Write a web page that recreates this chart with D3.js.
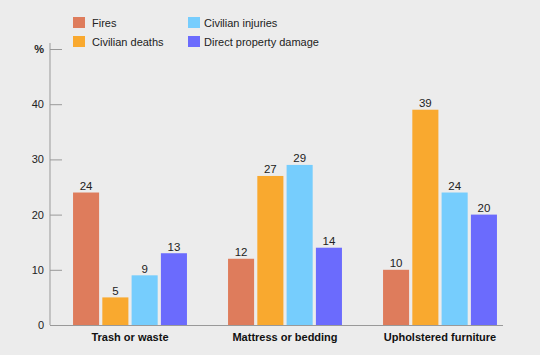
<!DOCTYPE html>
<html><head><meta charset="utf-8">
<script src="https://cdn.jsdelivr.net/npm/d3@7"></script>
<style>
html,body{margin:0;padding:0;background:#ececec;}
svg{display:block;font-family:"Liberation Sans",Arial,sans-serif;}
</style></head>
<body>
<svg id="chart" width="540" height="355"></svg>
<script>
const categories = ["Trash or waste", "Mattress or bedding", "Upholstered furniture"];
const seriesNames = ["Fires", "Civilian deaths", "Civilian injuries", "Direct property damage"];
const fires = [24, 12, 10];
const civilianDeaths = [5, 27, 39];
const civilianInjuries = [9, 29, 24];
const propertyDamage = [13, 14, 20];
const yTicks = [0, 10, 20, 30, 40];
const colors = ["#de7c5c", "#f9a92f", "#76cdfd", "#6b6bfd"];

const seriesValues = [fires, civilianDeaths, civilianInjuries, propertyDamage];
const svg = d3.select("#chart");

const y = d3.scaleLinear().domain([0, 50]).range([325, 49]);
const x0 = d3.scaleBand().domain(categories).range([52.5, 517.5]).paddingInner(0.265).paddingOuter(0.1325);
const x1 = d3.scaleBand().domain(seriesNames).range([0, x0.bandwidth()]).paddingInner(0.11);

// y axis
const yAxis = d3.axisRight(y).tickValues(yTicks.concat([50])).tickSize(12).tickFormat("");
const ga = svg.append("g").attr("transform", "translate(50,0)").call(yAxis);
ga.select(".domain").attr("d", `M0,43V${y(0)}`).attr("stroke", "#999");
ga.selectAll(".tick line").attr("stroke", "#999");

svg.append("g").selectAll("text").data(yTicks).join("text")
  .attr("x", 44).attr("y", d => y(d) + 4)
  .attr("text-anchor", "end").attr("font-size", 11).attr("fill", "#222")
  .text(d => d);
svg.append("text").attr("x", 44).attr("y", y(50) + 4)
  .attr("text-anchor", "end").attr("font-size", 11).attr("font-weight", "bold").attr("fill", "#222").text("%");

// bars
const groups = svg.append("g").selectAll("g").data(categories).join("g")
  .attr("transform", c => `translate(${x0(c)},0)`);
groups.each(function(c, ci) {
  const g = d3.select(this);
  seriesNames.forEach((s, si) => {
    const v = seriesValues[si][ci];
    g.append("rect").attr("x", x1(s)).attr("width", x1.bandwidth())
      .attr("y", y(v)).attr("height", y(0) - y(v)).attr("fill", colors[si]);
    g.append("text").attr("x", x1(s) + x1.bandwidth() / 2).attr("y", y(v) - 2.5)
      .attr("text-anchor", "middle").attr("font-size", 11.5).attr("fill", "#222").text(v);
  });
});

// x baseline
svg.append("line").attr("x1", 50).attr("x2", 503).attr("y1", y(0) + 0.5).attr("y2", y(0) + 0.5)
  .attr("stroke", "#999");

svg.append("g").selectAll("text").data(categories).join("text")
  .attr("x", c => x0(c) + x0.bandwidth() / 2).attr("y", 340.5)
  .attr("text-anchor", "middle").attr("font-size", 11).attr("font-weight", "bold").attr("fill", "#111")
  .text(c => c);

// legend
const legendPos = [[73, 17], [73, 36], [188, 17], [188, 36]];
const lg = svg.append("g").selectAll("g").data(seriesNames).join("g")
  .attr("transform", (d, i) => `translate(${legendPos[i][0]},${legendPos[i][1]})`);
lg.append("rect").attr("width", 12).attr("height", 11).attr("fill", (d, i) => colors[i]);
lg.append("text").attr("x", (d, i) => i < 2 ? 19 : 16).attr("y", 10).attr("font-size", 11).attr("fill", "#222").text(d => d);
</script>
</body></html>
